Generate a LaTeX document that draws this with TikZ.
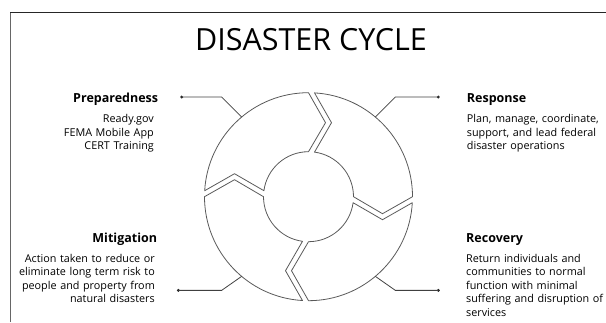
\documentclass[tikz,border=0pt]{standalone}
\usepackage{fontspec}
\setmainfont{Open Sans}
\usetikzlibrary{calc}
\begin{document}
\begin{tikzpicture}[x=1pt,y=1pt,
  seg/.style={draw=black!65, line width=0.8pt, line join=round},
  lead/.style={draw=black!75, line width=0.8pt},
  dotmark/.style={circle, fill=black!85, inner sep=0pt, minimum size=3.2pt},
  head/.style={font=\bfseries\fontsize{12.5}{14}\selectfont, inner sep=0pt},
  body/.style={font=\fontsize{10.8}{13.6}\selectfont, inner sep=0pt, text width=170pt},
]
\useasboundingbox (0,0) rectangle (606,322);
% page frame
\draw[black!60, line width=1pt] (10.7,0) -- (10.7,309.7);
\draw[black!85, line width=1.3pt] (10.2,309.7) -- (606,309.7);

% title
\node[font=\fontsize{30.5}{34}\selectfont, anchor=base, inner sep=0pt] (title) at (311,271.5) {DISASTER CYCLE};

% ring of four chevron-cut segments
\coordinate (c) at (308.5,125.3);
\foreach \r in {0,-90,-180,-270}{
  \draw[seg, shift={(c)}, rotate=\r]
    (86.69:104) arc[start angle=86.69, end angle=0, radius=104]
    -- (74,-17) -- (0:45)
    arc[start angle=0, end angle=82.34, radius=45]
    -- (23,74) -- cycle;
}

% attachment points on the outer rim
\coordinate (aprep) at ($(c)+(130:104)$);
\coordinate (aresp) at ($(c)+(50:104)$);
\coordinate (amit)  at ($(c)+(230:104)$);
\coordinate (arec)  at ($(c)+(310:104)$);

% leader dots
\node[dotmark] (dprep) at ($(aprep)+(-60,20)$) {};
\node[dotmark] (dresp) at ($(aresp)+(63,20)$) {};
\node[dotmark] (dmit)  at ($(amit)+(-63.3,-14)$) {};
\node[dotmark] (drec)  at ($(arec)+(63,-14)$) {};

% leaders
\draw[lead] (dprep.center) -- ($(aprep)+(-20,20)$) -- (aprep);
\draw[lead] (dresp.center) -- ($(aresp)+(20,20)$) -- (aresp);
\draw[lead] (dmit.center)  -- ($(amit)+(-20,-14)$) -- (amit);
\draw[lead] (drec.center)  -- ($(arec)+(20,-14)$) -- (arec);

% labels
\node[head, anchor=base east] (hprep) at (158.3,219.3) {Preparedness};
\node[body, anchor=base east, align=right] (tprep) at (154,199.5)
  {Ready.gov\\FEMA Mobile App\\CERT Training};

\node[head, anchor=base west] (hresp) at (466.7,219.3) {Response};
\node[body, anchor=base west, align=left] (tresp) at (466.7,199.5)
  {Plan, manage, coordinate,\\support, and lead federal\\disaster operations};

\node[head, anchor=base east] (hmit) at (157.3,79.7) {Mitigation};
\node[body, anchor=base east, align=right] (tmit) at (155,60)
  {Action taken to reduce or\\eliminate long term risk to\\people and property from\\natural disasters};

\node[head, anchor=base west] (hrec) at (466,79.7) {Recovery};
\node[body, anchor=base west, align=left] (trec) at (466,60)
  {Return individuals and\\communities to normal\\function with minimal\\suffering and disruption of\\services};
\end{tikzpicture}
\end{document}
